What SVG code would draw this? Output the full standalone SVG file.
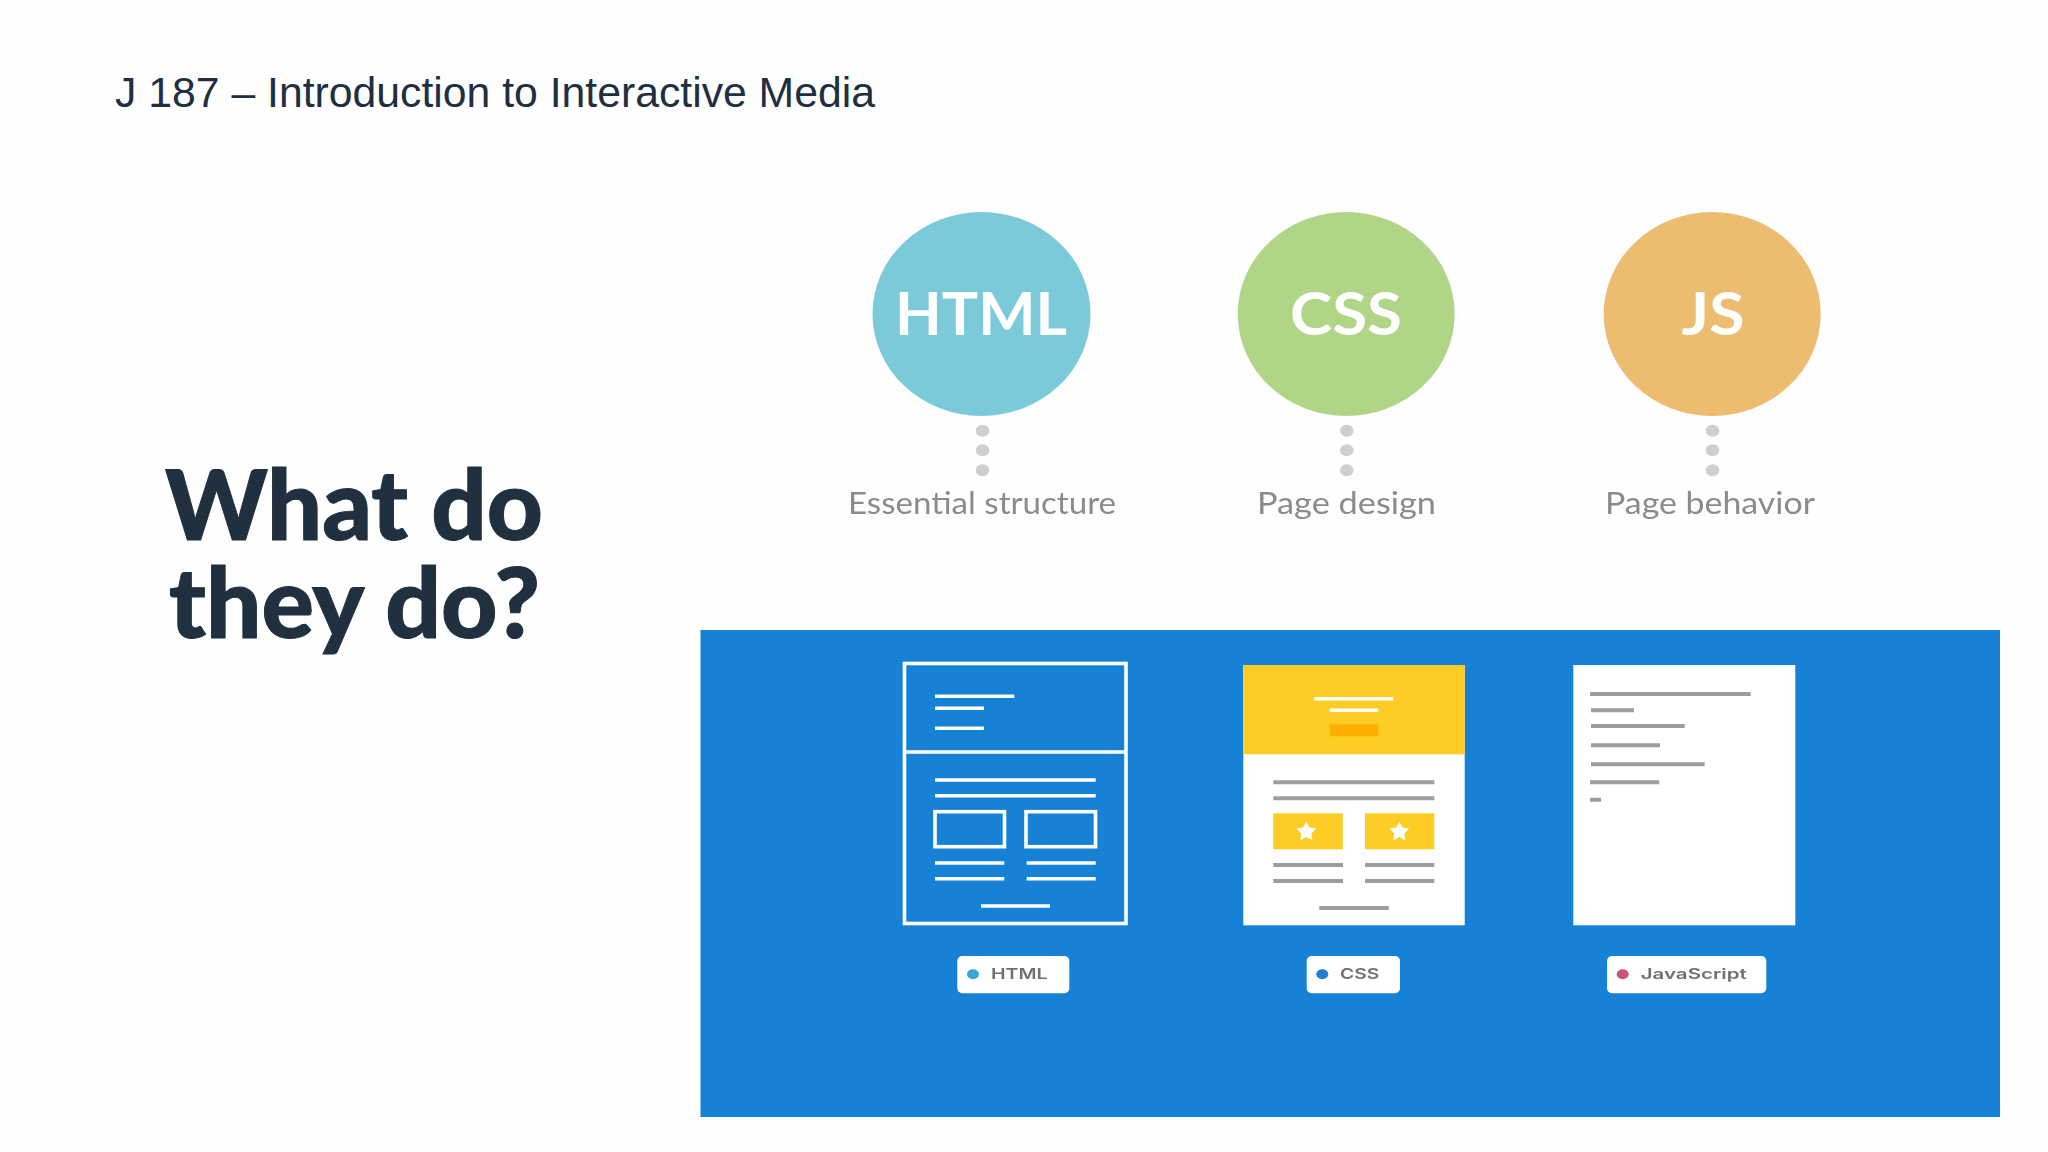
<svg xmlns="http://www.w3.org/2000/svg" width="2048" height="1152" viewBox="0 0 2048 1152">
<style>
.soft{filter:url(#soft)}
.circ{font-family:Lato,"Liberation Sans",sans-serif;font-weight:700;font-size:59px;fill:#fff}
.cap{font-family:Lato,"Liberation Sans",sans-serif;font-size:31px;fill:#8b8b8f}
.tag{font-family:Inter,"Liberation Sans",sans-serif;font-weight:600;font-size:14.7px;fill:#707072}
.dot{fill:#cfcfd2}
.wl{stroke:#fff;stroke-width:3.6;fill:none}
.gl{stroke:#9d9d9d;stroke-width:4;fill:none}
.pill{fill:#fff}
.head{font-family:Lato,"Liberation Sans",sans-serif;font-weight:900;font-size:98px;fill:#20303f;stroke:#20303f;stroke-width:1}
</style>
<defs><filter id="soft" x="-5%" y="-5%" width="110%" height="110%"><feGaussianBlur stdDeviation="0.7"/></filter></defs>
<rect width="2048" height="1152" fill="#fefefe"/>
<text id="title" x="115" y="106.5" font-family="'Liberation Sans',Arial,sans-serif" font-size="42" fill="#1f2f40" textLength="760" lengthAdjust="spacingAndGlyphs">J 187 – Introduction to Interactive Media</text>
<g id="heading">
<text class="head" x="165" y="539.5" textLength="378" lengthAdjust="spacingAndGlyphs">What do</text>
<text class="head" x="169" y="638" textLength="371" lengthAdjust="spacingAndGlyphs">they do?</text>
</g>
<g id="node-html" class="soft">
<ellipse cx="981.5" cy="314" rx="109" ry="102" fill="#7acada"/>
<text class="circ" x="895" y="335" textLength="172" lengthAdjust="spacingAndGlyphs">HTML</text>
<g class="dot"><ellipse cx="982.5" cy="430.7" rx="6.8" ry="6"/><ellipse cx="982.5" cy="450.3" rx="6.8" ry="6"/><ellipse cx="982.5" cy="470.3" rx="6.8" ry="6"/></g>
<text class="cap" x="848" y="514" textLength="268" lengthAdjust="spacingAndGlyphs">Essential structure</text>
</g>
<g id="node-css" class="soft">
<ellipse cx="1346.2" cy="314" rx="108.5" ry="102" fill="#b0d587"/>
<text class="circ" x="1290" y="335" textLength="112" lengthAdjust="spacingAndGlyphs">CSS</text>
<g class="dot"><ellipse cx="1346.8" cy="430.7" rx="6.8" ry="6"/><ellipse cx="1346.8" cy="450.3" rx="6.8" ry="6"/><ellipse cx="1346.8" cy="470.3" rx="6.8" ry="6"/></g>
<text class="cap" x="1257" y="514" textLength="179" lengthAdjust="spacingAndGlyphs">Page design</text>
</g>
<g id="node-js" class="soft">
<ellipse cx="1712.2" cy="314" rx="108.5" ry="102" fill="#ecbc70"/>
<text class="circ" x="1681.5" y="335" textLength="63" lengthAdjust="spacingAndGlyphs">JS</text>
<g class="dot"><ellipse cx="1712.5" cy="430.7" rx="6.8" ry="6"/><ellipse cx="1712.5" cy="450.3" rx="6.8" ry="6"/><ellipse cx="1712.5" cy="470.3" rx="6.8" ry="6"/></g>
<text class="cap" x="1605" y="514" textLength="210" lengthAdjust="spacingAndGlyphs">Page behavior</text>
</g>
<rect id="panel" x="700.5" y="630" width="1299.5" height="487" fill="#1781d6"/>
<g id="card-html" class="soft">
<rect class="wl" x="904.5" y="663.5" width="221.5" height="260"/>
<path class="wl" d="M904 752H1126M935 696.3H1014.3M935 708.3H984M935 728.3H984M935 780H1095.7M935 795.7H1095.7M935 863H1004.3M935 878.7H1004.3M1026.7 863H1095.7M1026.7 878.7H1095.7M981 906H1050"/>
<rect class="wl" x="935" y="811.7" width="69.5" height="35"/>
<rect class="wl" x="1026" y="811.7" width="69.5" height="35"/>
<rect class="pill" x="957.3" y="956" width="112" height="37.3" rx="5"/>
<ellipse cx="973" cy="974.3" rx="6" ry="5" fill="#35a8d6"/>
<text class="tag" x="991" y="979.3" textLength="56.7" lengthAdjust="spacingAndGlyphs">HTML</text>
</g>
<g id="card-css" class="soft">
<rect x="1243.3" y="665" width="221.4" height="260.3" fill="#fff"/>
<rect x="1243.3" y="665" width="221.4" height="89.3" fill="#fdcd25"/>
<path class="wl" d="M1314.3 698.7H1393.3M1329.7 710.3H1378.3"/>
<rect x="1330" y="724.3" width="48.3" height="12" fill="#fdae02"/>
<path class="gl" d="M1273.3 782.3H1434.3M1273.3 798.3H1434.3M1273.3 865H1343M1365 865H1434.3M1273.3 881H1343M1365 881H1434.3M1319.3 908H1388.7"/>
<rect x="1273.3" y="813.3" width="69.4" height="36" fill="#fdcd25"/>
<rect x="1365" y="813.3" width="69.3" height="36" fill="#fdcd25"/>
<polygon fill="#fff" points="1306.3,821.5 1309.4,827.6 1316.2,828.6 1311.3,833.4 1312.4,840.2 1306.3,837 1300.2,840.2 1301.3,833.4 1296.4,828.6 1303.2,827.6"/>
<polygon fill="#fff" points="1399.3,821.5 1402.4,827.6 1409.2,828.6 1404.3,833.4 1405.4,840.2 1399.3,837 1393.2,840.2 1394.3,833.4 1389.4,828.6 1396.2,827.6"/>
<rect class="pill" x="1306.7" y="956" width="93.3" height="37.3" rx="5"/>
<ellipse cx="1322.3" cy="974.3" rx="6" ry="5" fill="#1a7fd4"/>
<text class="tag" x="1340" y="979.3" textLength="39.3" lengthAdjust="spacingAndGlyphs">CSS</text>
</g>
<g id="card-js" class="soft">
<rect x="1573.3" y="665" width="222" height="260.3" fill="#fff"/>
<path class="gl" d="M1590 694H1750.7M1591 710.3H1634M1591 726H1684.7M1591 745.3H1660M1591 764.3H1704.7M1590 782.3H1659.3M1590 799.7H1601"/>
<rect class="pill" x="1607" y="956" width="159.3" height="37.3" rx="5"/>
<ellipse cx="1622.7" cy="974.3" rx="6" ry="5" fill="#c9537e"/>
<text class="tag" x="1640.7" y="979.3" textLength="106" lengthAdjust="spacingAndGlyphs">JavaScript</text>
</g>
</svg>
